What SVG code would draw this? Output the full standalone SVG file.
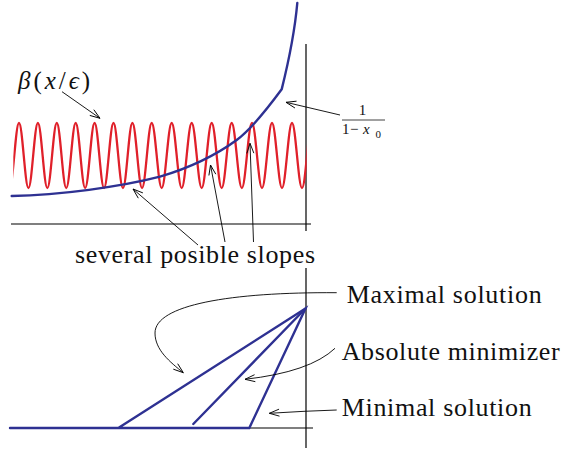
<svg xmlns="http://www.w3.org/2000/svg" width="561" height="450" viewBox="0 0 561 450">
<style>
.axis{stroke:#000;stroke-width:1.2;fill:none}
.blue{stroke:#2e3192;stroke-width:2.4;fill:none;stroke-linecap:round}
.red{stroke:#e0202a;stroke-width:2.3;fill:none}
.arr{stroke:#000;stroke-width:0.9;fill:none;marker-end:url(#ah)}
.lbl{font-size:26px}
.it{font-style:italic}
</style>
<defs>
<marker id="ah" markerUnits="userSpaceOnUse" markerWidth="14" markerHeight="10" viewBox="-12 -5 14 10" refX="0" refY="0" orient="auto">
<path d="M-10,-3.5 L0,0 L-10,3.5" stroke="#000" stroke-width="0.9" fill="none"/>
</marker>
<clipPath id="waveclip"><rect x="13.3" y="0" width="293.4" height="260"/></clipPath>
</defs>

<g id="top-axes">
<line class="axis" x1="11" y1="224" x2="311" y2="224"/>
<line class="axis" x1="306" y1="44" x2="306" y2="231"/>
</g>

<g id="oscillation">
<path class="red" clip-path="url(#waveclip)" d="M9.55,188 C12.98,188 15.57,123 19,123 C22.43,123 25.02,188 28.45,188 C31.88,188 34.47,123 37.9,123 C41.33,123 43.92,188 47.35,188 C50.78,188 53.37,123 56.8,123 C60.23,123 62.82,188 66.25,188 C69.68,188 72.27,123 75.7,123 C79.13,123 81.72,188 85.15,188 C88.58,188 91.17,123 94.6,123 C98.03,123 100.62,188 104.05,188 C107.48,188 110.07,123 113.5,123 C116.93,123 119.52,188 122.95,188 C126.38,188 128.97,123 132.4,123 C135.91,123 138.54,188 142.05,188 C145.56,188 148.19,123 151.7,123 C155.33,123 158.07,188 161.7,188 C165.33,188 168.07,123 171.7,123 C175.33,123 178.07,188 181.7,188 C185.33,188 188.07,123 191.7,123 C195.33,123 198.07,188 201.7,188 C205.33,188 208.07,123 211.7,123 C215.33,123 218.07,188 221.7,188 C225.33,188 228.07,123 231.7,123 C235.39,123 238.16,188 241.85,188 C245.54,188 248.31,123 252,123 C255.63,123 258.37,188 262,188 C265.63,188 268.37,123 272,123 C275.63,123 278.37,188 282,188 C285.63,188 288.37,123 292,123 C295.63,123 298.37,188 302,188 C305.63,188 308.37,123 312,123"/>
</g>

<g id="blue-curve">
<path class="blue" d="M11.7,196 C60,195 120,187 160,176.7 C185,169.2 211.1,158.7 236.7,140 C251.7,129 266.7,109.6 281.7,89.3 C285,76 294,40 297.3,3"/>
</g>

<g fill="#111" font-family="'Liberation Serif', 'Times New Roman', serif">
<g id="label-beta">
<text x="18" y="89" font-size="25" textLength="72"><tspan class="it">β</tspan>(<tspan class="it">x</tspan>/<tspan class="it">ϵ</tspan>)</text>
</g>

<g id="label-fraction">
<text x="362.5" y="115" font-size="15" text-anchor="middle">1</text>
<line x1="342" y1="120" x2="385" y2="120" stroke="#111" stroke-width="0.8"/>
<text x="342" y="134" font-size="15">1</text>
<text x="350" y="134" font-size="15">−</text>
<text x="363" y="134" font-size="15" class="it">x</text>
<text x="375.5" y="137.5" font-size="11">0</text>
</g>

<g id="label-slopes">
<text class="lbl" x="75" y="263" textLength="240">several posible slopes</text>
</g>

<g id="label-maximal"><text class="lbl" x="346.7" y="303" textLength="195">Maximal solution</text></g>
<g id="label-absolute"><text class="lbl" x="341.7" y="360" textLength="218">Absolute minimizer</text></g>
<g id="label-minimal"><text class="lbl" x="341.7" y="416" textLength="190">Minimal solution</text></g>
</g>

<g id="bottom-axes">
<line class="axis" x1="10" y1="428" x2="313" y2="428"/>
<line class="axis" x1="306" y1="268" x2="306" y2="448"/>
</g>

<g id="solutions">
<path class="blue" d="M10,428 L249.3,428 L305.5,308.5 L118.3,428"/>
<path class="blue" d="M305.5,308.5 L193.3,424"/>
</g>

<g id="connectors">
<path class="arr" d="M62,91.7 L100,118.3"/>
<path class="arr" d="M340,115 L286,102.3"/>
<path class="arr" d="M198,245 L133,189"/>
<path class="arr" d="M225,242 L210.5,165"/>
<path class="arr" d="M253.5,242 L250,143.3"/>
<path class="arr" d="M336.7,292.7 C230,292 155,305 155,333 C155,350 170,362 183.3,372.7"/>
<path class="arr" d="M335,348.3 Q310,372 245,379.3"/>
<path class="arr" d="M336.7,410 Q305,411 269.3,413.3"/>
</g>
</svg>
